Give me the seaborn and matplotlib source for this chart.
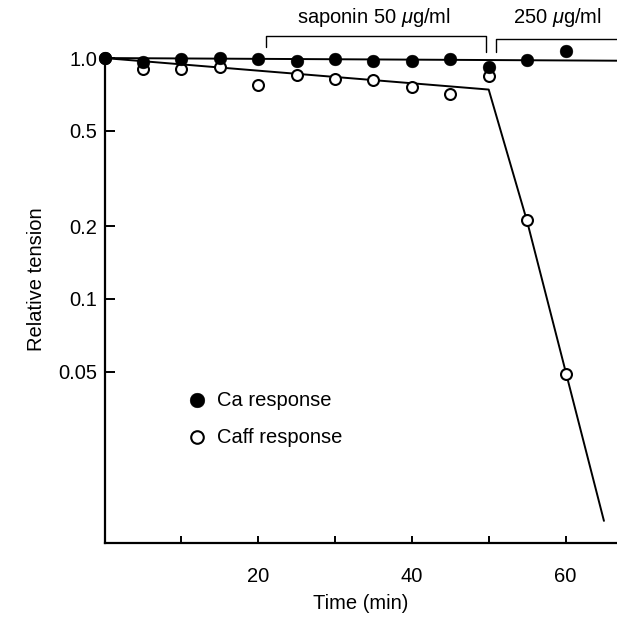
import numpy as np
import matplotlib
matplotlib.use("Agg")
import matplotlib.pyplot as plt
import seaborn as sns

# data
time_ca = [0, 5, 10, 15, 20, 25, 30, 35, 40, 45, 50, 55, 60]
ca_resp = [1.0, 0.965, 0.99, 1.0, 0.99, 0.975, 0.99, 0.97, 0.97, 0.99, 0.92, 0.98, 1.07]

time_caff = [0, 5, 10, 15, 20, 25, 30, 35, 40, 45, 50, 55, 60]
caff_resp = [1.0, 0.90, 0.90, 0.92, 0.77, 0.85, 0.82, 0.81, 0.76, 0.71, 0.84, 0.212, 0.049]

# hand-drawn fit lines
ca_fit_x = [0, 66.7]
ca_fit_y = [1.0, 0.975]
caff_fit_x = [0, 50, 55, 65.0]
caff_fit_y = [1.0, 0.74, 0.21, 0.012]

y_ticks = [1.0, 0.5, 0.2, 0.1, 0.05]
y_labels = ["1.0", "0.5", "0.2", "0.1", "0.05"]
x_ticks = [10, 20, 30, 40, 50, 60]
x_labels = ["", "20", "", "40", "", "60"]

FS = 14.5

sns.set_style("ticks")
plt.rcParams['font.family'] = ['Liberation Sans', 'DejaVu Sans']
plt.rcParams['mathtext.fontset'] = 'custom'
plt.rcParams['mathtext.it'] = 'Liberation Sans:italic'
plt.rcParams['mathtext.rm'] = 'Liberation Sans'
plt.rcParams['text.color'] = 'black'
plt.rcParams['axes.labelcolor'] = 'black'
plt.rcParams['xtick.color'] = 'black'
plt.rcParams['ytick.color'] = 'black'

fig = plt.figure(figsize=(6.17, 6.25), dpi=100)
ax = fig.add_axes([104.5 / 617, 0.131, 1 - 104.5 / 617, 0.844])

sns.lineplot(x=ca_fit_x, y=ca_fit_y, ax=ax, color='black', lw=1.4, sort=False)
sns.lineplot(x=caff_fit_x, y=caff_fit_y, ax=ax, color='black', lw=1.4, sort=False)

sns.scatterplot(x=time_caff, y=caff_resp, ax=ax, marker='o', s=62,
                facecolor='white', edgecolor='black', linewidth=1.5,
                label='Caff response', zorder=3, clip_on=False)
sns.scatterplot(x=time_ca, y=ca_resp, ax=ax, marker='o', s=85,
                color='black', edgecolor='black', linewidth=0.3,
                label='Ca response', zorder=4, clip_on=False)

ax.set_yscale('log')
ax.set_xlim(0, 66.7)
ax.set_ylim(0.0097, 1.5)
ax.set_yticks(y_ticks)
ax.set_yticklabels(y_labels)
ax.yaxis.set_minor_locator(matplotlib.ticker.NullLocator())
ax.set_xticks(x_ticks)
ax.set_xticklabels(x_labels)

ax.tick_params(axis='both', direction='in', labelsize=FS, width=1.4)
ax.tick_params(axis='x', length=5, pad=17)
ax.tick_params(axis='y', length=7, pad=5)

for s in ['top', 'right']:
    ax.spines[s].set_visible(False)
for s in ['left', 'bottom']:
    ax.spines[s].set_linewidth(1.6)
    ax.spines[s].set_color('black')
ax.spines['left'].set_bounds(0.0097, 1.0)

ax.set_xlabel('Time (min)', fontsize=FS, labelpad=6)
ax.set_ylabel('Relative tension', fontsize=FS, labelpad=9)

# saponin brackets
ax.plot([21, 21, 49.7, 49.7], [1.11, 1.234, 1.234, 1.06], color='black', lw=1.0, clip_on=False)
ax.plot([50.9, 50.9, 66.7], [1.06, 1.196, 1.196], color='black', lw=1.0, clip_on=False)
ax.text(35.1, 1.47, r'saponin 50 $\mu$g/ml', ha='center', va='center', fontsize=FS)
ax.text(58.9, 1.47, r'250 $\mu$g/ml', ha='center', va='center', fontsize=FS)

handles, labels = ax.get_legend_handles_labels()
ax.legend(handles[::-1], labels[::-1], loc='center left', bbox_to_anchor=(0.125, 0.236),
          frameon=False, fontsize=FS, handlelength=1.0, handletextpad=0.5,
          labelspacing=0.9, borderpad=0.4, markerscale=1.15)

fig.savefig('out.png', dpi=100)
